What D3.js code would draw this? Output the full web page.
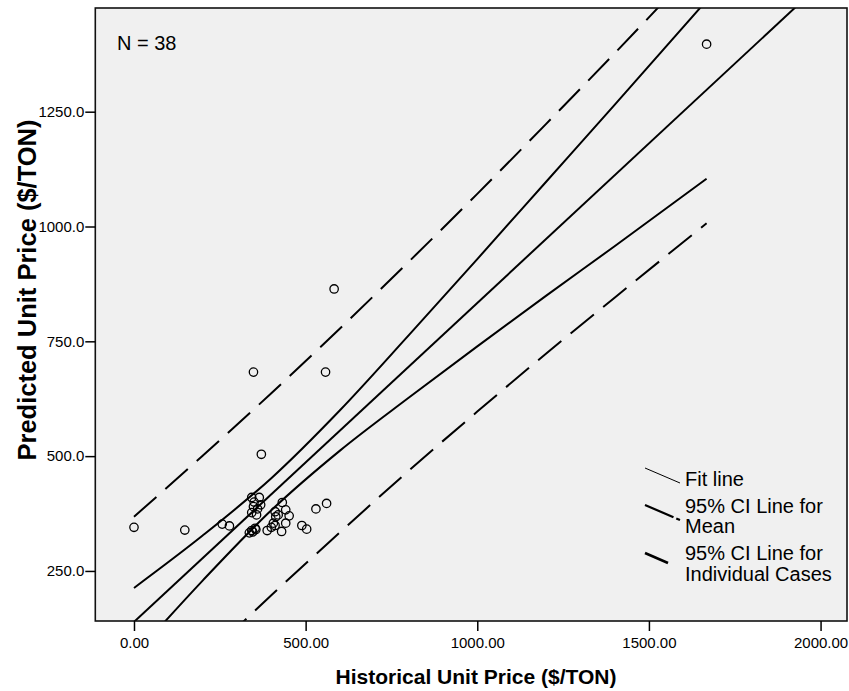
<!DOCTYPE html>
<html>
<head>
<meta charset="utf-8">
<script src="https://cdn.jsdelivr.net/npm/d3@7/dist/d3.min.js"></script>
<style>
  html, body { margin: 0; padding: 0; background: #ffffff; }
  svg { display: block; }
  text { font-family: "Liberation Sans", Arial, Helvetica, sans-serif; fill: #000; }
</style>
</head>
<body>
<svg id="chart" width="849" height="691"></svg>
<script>
// ---------------- data ----------------
const histPrice = [0, 148, 257, 278, 348, 558, 371, 583, 1668,
  343, 365, 348, 369, 343, 357, 432, 442, 452, 411, 413, 442, 406, 411, 430, 388, 353, 343, 336,
  530, 561, 489, 503, 350, 360, 346, 400, 420, 355];
const predPrice = [345, 339, 352, 348, 683, 683, 504, 864, 1397,
  410, 410, 390, 394, 377, 372, 399, 383, 370, 379, 368, 354, 354, 349, 336, 338, 343, 338, 333,
  385, 397, 349, 341, 400, 385, 335, 345, 372, 340];

// fit line end values (fit line spans the whole axis)
const fitX = [-113, 2077];
const fitY = [60.5, 1581.7];

// CI curves, read at these x positions (data range 0 .. 1668)
const ciX        = [0,    200,   400,   600,   800,   1000,   1200,   1400,   1668];
const meanUpper  = [213,  327,   452,   600,   763,   929,    1097,   1265,   1492];
const meanLower  = [65,   229,   382,   512,   627,   739,    849,    957,    1104];
const indUpper   = [368,  501,   637,   778,   923,   1071,   1223,   1377,   1589];
const indLower   = [-90,  55,    197,   334,   468,   597,    723,    845,    1007];

const xTicks = [0, 500, 1000, 1500, 2000];
const yTicks = [250, 500, 750, 1000, 1250];

const xTitle = "Historical Unit Price ($/TON)";
const yTitle = "Predicted Unit Price ($/TON)";
const nLabel = "N = 38";
const legendItems = ["Fit line", "95% CI Line for|Mean", "95% CI Line for|Individual Cases"];

// ---------------- layout ----------------
const P = { left: 95.3, right: 847, top: 8, bottom: 621 };

const svg = d3.select("#chart");

const x = d3.scaleLinear().domain([-112.7, 2077]).range([P.left, P.right]);
const y = d3.scaleLinear().domain([141, 1475.8]).range([P.bottom, P.top]);

// plot background
svg.append("rect")
  .attr("x", P.left).attr("y", P.top)
  .attr("width", P.right - P.left).attr("height", P.bottom - P.top)
  .attr("fill", "#f0f0f0");

svg.append("defs").append("clipPath").attr("id", "clip")
  .append("rect")
  .attr("x", P.left).attr("y", P.top)
  .attr("width", P.right - P.left).attr("height", P.bottom - P.top);

const g = svg.append("g").attr("clip-path", "url(#clip)");

const line = d3.line().x(d => x(d[0])).y(d => y(d[1])).curve(d3.curveMonotoneX);

function addCurve(xs, ys, width, dash) {
  const p = g.append("path")
    .datum(xs.map((v, i) => [v, ys[i]]))
    .attr("d", line)
    .attr("fill", "none")
    .attr("stroke", "#000")
    .attr("stroke-width", width)
    .attr("stroke-linecap", "butt");
  if (dash) p.attr("stroke-dasharray", dash);
}

addCurve(ciX, indUpper, 2, "30,12");
addCurve(ciX, indLower, 2, "30,12");
addCurve(ciX, meanUpper, 2, null);
addCurve(ciX, meanLower, 2, null);
addCurve(fitX, fitY, 2, null);

// points
g.selectAll("circle.pt")
  .data(histPrice.map((v, i) => [v, predPrice[i]]))
  .enter().append("circle")
  .attr("class", "pt")
  .attr("cx", d => x(d[0]))
  .attr("cy", d => y(d[1]))
  .attr("r", 4.2)
  .attr("fill", "none")
  .attr("stroke", "#000")
  .attr("stroke-width", 1.3);

// frame
svg.append("rect")
  .attr("x", P.left).attr("y", P.top)
  .attr("width", P.right - P.left).attr("height", P.bottom - P.top)
  .attr("fill", "none").attr("stroke", "#111").attr("stroke-width", 1.6);

// axes
const xAxis = svg.append("g")
  .attr("transform", `translate(0,${P.bottom})`)
  .call(d3.axisBottom(x).tickValues(xTicks).tickFormat(d3.format(".2f")).tickSize(10).tickSizeOuter(0).tickPadding(6));
xAxis.select(".domain").remove();
xAxis.selectAll("line").attr("stroke", "#000").attr("stroke-width", 1.5);
xAxis.selectAll("text").attr("font-size", "15px").attr("font-family", "Liberation Sans, Arial, sans-serif").attr("fill", "#000");

const yAxis = svg.append("g")
  .attr("transform", `translate(${P.left},0)`)
  .call(d3.axisLeft(y).tickValues(yTicks).tickFormat(d3.format(".1f")).tickSize(10).tickSizeOuter(0).tickPadding(1));
yAxis.select(".domain").remove();
yAxis.selectAll("line").attr("stroke", "#000").attr("stroke-width", 1.5);
yAxis.selectAll("text").attr("font-size", "15px").attr("font-family", "Liberation Sans, Arial, sans-serif").attr("fill", "#000");

// axis titles
svg.append("text")
  .attr("x", 476).attr("y", 684)
  .attr("text-anchor", "middle")
  .attr("font-size", "21px").attr("font-weight", "bold")
  .text(xTitle);

svg.append("text")
  .attr("transform", "translate(35.5,290) rotate(-90)")
  .attr("text-anchor", "middle")
  .attr("font-size", "25.5px").attr("font-weight", "bold")
  .text(yTitle);

// N label
svg.append("text")
  .attr("x", 117).attr("y", 49.5)
  .attr("font-size", "20px")
  .text(nLabel);

// legend
const lg = svg.append("g");
const sampleStyles = [
  { x2: 680, y1: 468, y2: 483, w: 1, dash: null },
  { x2: 680, y1: 505, y2: 520, w: 2.2, dash: "31,3" },
  { x2: 668, y1: 553, y2: 563, w: 2.6, dash: null }
];
const baselines = [[485.5], [512.5, 533], [560, 580.5]];
legendItems.forEach((item, i) => {
  const s = sampleStyles[i];
  const l = lg.append("line")
    .attr("x1", 645).attr("y1", s.y1).attr("x2", s.x2).attr("y2", s.y2)
    .attr("stroke", "#000").attr("stroke-width", s.w);
  if (s.dash) l.attr("stroke-dasharray", s.dash);
  item.split("|").forEach((t, j) => {
    lg.append("text")
      .attr("x", 685).attr("y", baselines[i][j])
      .attr("font-size", "20px")
      .text(t);
  });
});
</script>
</body>
</html>
